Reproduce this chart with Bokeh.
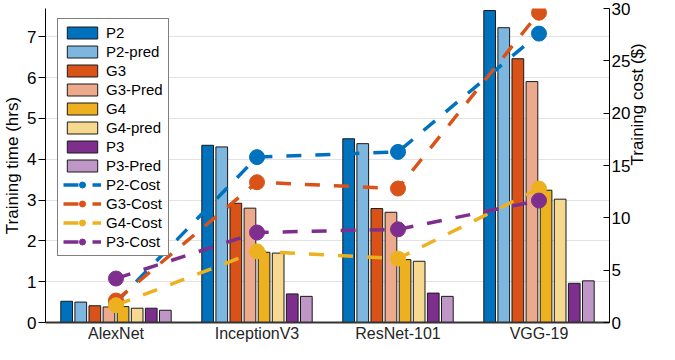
import math
from bokeh.plotting import figure
from bokeh.models import (ColumnDataSource, Range1d, LinearAxis, FactorRange,
                          Legend, LegendItem, FixedTicker)
from bokeh.transform import dodge
from bokeh.embed import file_html
from bokeh.resources import INLINE

categories = ["AlexNet", "InceptionV3", "ResNet-101", "VGG-19"]

# Training time (hrs)
p2 = [0.52, 4.34, 4.50, 7.64]
p2_pred = [0.50, 4.30, 4.38, 7.22]
g3 = [0.41, 2.92, 2.79, 6.46]
g3_pred = [0.38, 2.80, 2.70, 5.90]
g4 = [0.39, 1.72, 1.54, 3.24]
g4_pred = [0.35, 1.70, 1.50, 3.02]
p3 = [0.35, 0.70, 0.72, 0.96]
p3_pred = [0.30, 0.64, 0.64, 1.02]

# Training cost ($)
p2_cost = [1.9, 15.8, 16.3, 27.6]
g3_cost = [2.1, 13.4, 12.8, 29.6]
g4_cost = [1.65, 6.8, 6.1, 12.8]
p3_cost = [4.2, 8.6, 8.9, 11.65]

left_ticks = [0, 1, 2, 3, 4, 5, 6, 7]
right_ticks = [0, 5, 10, 15, 20, 25, 30]

bar_series = [
    ("P2", p2, "#0072BD"),
    ("P2-pred", p2_pred, "#7DB7E0"),
    ("G3", g3, "#D95319"),
    ("G3-Pred", g3_pred, "#EDA98B"),
    ("G4", g4, "#EDB120"),
    ("G4-pred", g4_pred, "#F6D88F"),
    ("P3", p3, "#7E2F8E"),
    ("P3-Pred", p3_pred, "#BE97C7"),
]
cost_series = [
    ("P2-Cost", p2_cost, "#0072BD"),
    ("G3-Cost", g3_cost, "#D95319"),
    ("G4-Cost", g4_cost, "#EDB120"),
    ("P3-Cost", p3_cost, "#7E2F8E"),
]

data = {"cat": categories}
for i, (name, vals, _) in enumerate(bar_series):
    data[f"b{i}"] = vals
for i, (name, vals, _) in enumerate(cost_series):
    data[f"c{i}"] = vals
src = ColumnDataSource(data)

FONT = "Liberation Sans"

p = figure(width=659, height=344, output_backend="svg", toolbar_location=None,
           x_range=FactorRange(*categories, range_padding=0, factor_padding=0),
           y_range=Range1d(0, 7.69), min_border_left=0, min_border_right=0,
           min_border_top=8, min_border_bottom=0)
p.outline_line_color = None
p.extra_y_ranges = {"cost": Range1d(0, 30)}

items = []
n = len(bar_series)
for i, (name, vals, color) in enumerate(bar_series):
    off = (i - (n - 1) / 2) * 0.1
    r = p.vbar(x=dodge("cat", off, range=p.x_range), top=f"b{i}", width=0.083,
               source=src, fill_color=color, line_color="#1a1a1a", line_width=1)
    items.append(LegendItem(label=name, renderers=[r]))

for i, (name, vals, color) in enumerate(cost_series):
    ln = p.line(x="cat", y=f"c{i}", source=src, y_range_name="cost",
                line_color=color, line_width=3.5, line_dash="15 14")
    sc = p.scatter(x="cat", y=f"c{i}", source=src, y_range_name="cost",
                   size=15, fill_color=color, line_color=color)
    items.append(LegendItem(label=name, renderers=[ln, sc]))

p.xgrid.grid_line_color = None
p.ygrid.grid_line_color = "#e3e3e3"
p.ygrid.grid_line_width = 1
p.yaxis.ticker = FixedTicker(ticks=left_ticks)

# left axis
ya = p.yaxis[0]
ya.axis_label = "Training time (hrs)"
ya.axis_label_text_font = FONT
ya.axis_label_text_font_size = "17px"
ya.axis_label_text_font_style = "normal"
ya.axis_label_text_color = "#000000"
ya.axis_label_standoff = 2
ya.major_label_text_font = FONT
ya.major_label_text_font_size = "17px"
ya.major_label_text_color = "#000000"
ya.major_label_standoff = 2
ya.major_tick_out = 7
ya.major_tick_in = 0
ya.minor_tick_out = 0
ya.minor_tick_in = 0
ya.axis_line_color = "#000000"
ya.major_tick_line_color = "#000000"

# right axis
ra = LinearAxis(y_range_name="cost", ticker=FixedTicker(ticks=right_ticks),
                axis_label="Training cost ($)")
ra.axis_label_orientation = math.pi / 2
ra.axis_label_text_font = FONT
ra.axis_label_text_font_size = "17px"
ra.axis_label_text_font_style = "normal"
ra.axis_label_text_color = "#000000"
ra.axis_label_standoff = 4
ra.major_label_text_font = FONT
ra.major_label_text_font_size = "17px"
ra.major_label_text_color = "#000000"
ra.major_label_standoff = 2
ra.major_tick_out = 0
ra.major_tick_in = 6
ra.minor_tick_out = 0
ra.minor_tick_in = 0
ra.axis_line_color = "#000000"
ra.major_tick_line_color = "#000000"
p.add_layout(ra, "right")

# bottom axis
xa = p.xaxis[0]
xa.major_label_text_font = FONT
xa.major_label_text_font_size = "16px"
xa.major_label_text_color = "#262626"
xa.major_label_standoff = 2
xa.major_tick_out = 0
xa.major_tick_in = 0
xa.axis_line_color = "#333333"
xa.axis_line_width = 2

legend = Legend(items=items, location=(12, 66),
                label_text_font=FONT, label_text_font_size="15px",
                label_text_color="#000000",
                glyph_width=38, glyph_height=15, label_height=15,
                spacing=2, padding=5, label_standoff=5,
                border_line_color="#000000", border_line_width=1,
                background_fill_color="white", background_fill_alpha=1.0)
p.add_layout(legend)

open("out.html", "w").write(file_html(p, INLINE))
